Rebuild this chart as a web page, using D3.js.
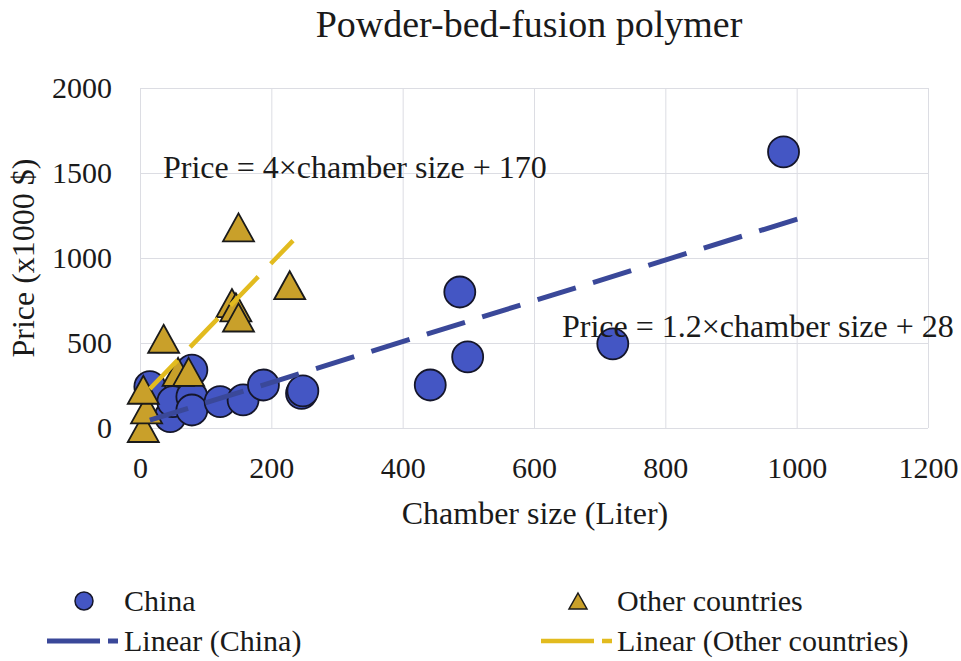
<!DOCTYPE html>
<html>
<head>
<meta charset="utf-8">
<script src="https://cdn.jsdelivr.net/npm/d3@7/dist/d3.min.js"></script>
<style>
  html, body { margin: 0; padding: 0; background: #fff; }
  svg { display: block; }
  text { font-family: "Liberation Serif", "Times New Roman", serif; fill: #1a1a1a; }
</style>
</head>
<body>
<svg id="chart" width="961" height="661"></svg>
<script>
// ---- data ----
const chartTitle = "Powder-bed-fusion polymer";
const xTicks = [0, 200, 400, 600, 800, 1000, 1200];
const yTicks = [0, 500, 1000, 1500, 2000];

const chinaSize  = [15, 46, 50, 79, 79, 79, 122, 157, 188, 246, 248, 442, 487, 499, 720, 980];
const chinaPrice = [243, 67, 155, 184, 106, 341, 155, 165, 253, 204, 218, 253, 800, 418, 495, 1624];

const otherSize  = [5, 10, 5, 36, 58, 74, 140, 146, 150, 150, 228];
const otherPrice = [0, 110, 225, 525, 330, 330, 735, 710, 650, 1180, 840];

// trendline equations (slope, intercept) and drawn x-range
const chinaTrend = [1.2, 28];
const chinaTrendRange = [15, 1020];
const otherTrend = [4, 170];
const otherTrendRange = [15, 233];

const chinaEq = "Price = 1.2×chamber size + 28";
const otherEq = "Price = 4×chamber size + 170";

// ---- styles ----
const blueFill = "#4456c4";
const blueLine = "#3a4899";
const goldFill = "#c9a02a";
const goldLine = "#e2bb1f";
const gridCol = "#dcdde3";

const svg = d3.select("#chart");
const x = d3.scaleLinear().domain([0, 1200]).range([140, 928]);
const y = d3.scaleLinear().domain([0, 2000]).range([428, 88]);

// grid
const gx = svg.append("g").attr("transform", `translate(0,${y(0)})`)
  .call(d3.axisBottom(x).tickValues(xTicks).tickSize(-(y(0) - y(2000))).tickFormat(""));
gx.select(".domain").remove();
gx.selectAll("line").attr("stroke", gridCol).attr("stroke-width", 1);

const gy = svg.append("g").attr("transform", `translate(${x(0)},0)`)
  .call(d3.axisLeft(y).tickValues(yTicks).tickSize(-(x(1200) - x(0))).tickFormat(""));
gy.select(".domain").remove();
gy.selectAll("line").attr("stroke", gridCol).attr("stroke-width", 1);

// tick labels
const ax = svg.append("g").attr("transform", `translate(0,${y(0)})`)
  .call(d3.axisBottom(x).tickValues(xTicks).tickSize(0).tickPadding(29).tickFormat(d3.format("d")));
ax.select(".domain").remove();
ax.selectAll("text").attr("font-size", 30).attr("font-family", "Liberation Serif").attr("fill", "#1a1a1a");

const ay = svg.append("g").attr("transform", `translate(112,0)`)
  .call(d3.axisLeft(y).tickValues(yTicks).tickSize(0).tickPadding(0).tickFormat(d3.format("d")));
ay.select(".domain").remove();
ay.selectAll("text").attr("font-size", 30).attr("font-family", "Liberation Serif").attr("fill", "#1a1a1a");

// title & axis titles
svg.append("text").attr("x", 529).attr("y", 37).attr("text-anchor", "middle")
  .attr("font-size", 38).text(chartTitle);
svg.append("text").attr("x", 535).attr("y", 524).attr("text-anchor", "middle")
  .attr("font-size", 32).text("Chamber size (Liter)");
svg.append("text").attr("transform", "translate(34,258) rotate(-90)").attr("text-anchor", "middle")
  .attr("font-size", 32).text("Price (x1000 $)");

// triangle path generator
function tri(w, h) {
  return `M0,${-h/2} L${w/2},${h/2} L${-w/2},${h/2} Z`;
}

// China points
const china = chinaSize.map((s, i) => ({ s, p: chinaPrice[i] }));
svg.append("g").selectAll("circle").data(china).join("circle")
  .attr("cx", d => x(d.s)).attr("cy", d => y(d.p)).attr("r", 15.5)
  .attr("fill", blueFill).attr("stroke", "#15162a").attr("stroke-width", 1.8);

// Other points
const others = otherSize.map((s, i) => ({ s, p: otherPrice[i] }));
svg.append("g").selectAll("path").data(others).join("path")
  .attr("transform", d => `translate(${x(d.s)},${y(d.p)})`)
  .attr("d", tri(31, 28))
  .attr("fill", goldFill).attr("stroke", "#1a1a1a").attr("stroke-width", 1.8).attr("stroke-linejoin", "miter");

// trendlines
function trendLine(eq, range, color, width) {
  const pts = range.map(v => [x(v), y(eq[0] * v + eq[1])]);
  svg.append("path").attr("d", d3.line()(pts))
    .attr("fill", "none").attr("stroke", color).attr("stroke-width", width)
    .attr("stroke-dasharray", "40,18");
}
trendLine(otherTrend, otherTrendRange, goldLine, 4.5);
trendLine(chinaTrend, chinaTrendRange, blueLine, 5);

// equations
svg.append("text").attr("x", 163).attr("y", 178).attr("font-size", 32).text(otherEq);
svg.append("text").attr("x", 562).attr("y", 337).attr("font-size", 32).text(chinaEq);

// legend
const lg = svg.append("g");
lg.append("circle").attr("cx", 84).attr("cy", 601).attr("r", 9)
  .attr("fill", blueFill).attr("stroke", "#15162a").attr("stroke-width", 1.5);
lg.append("text").attr("x", 124).attr("y", 611).attr("font-size", 30).text("China");
lg.append("path").attr("transform", "translate(578,601)").attr("d", tri(18, 16))
  .attr("fill", goldFill).attr("stroke", "#1a1a1a").attr("stroke-width", 1.5);
lg.append("text").attr("x", 617).attr("y", 611).attr("font-size", 30).text("Other countries");

lg.append("path").attr("d", d3.line()([[47, 641], [118, 641]]))
  .attr("stroke", blueLine).attr("stroke-width", 5).attr("stroke-dasharray", "53,8,10,100");
lg.append("text").attr("x", 124).attr("y", 651).attr("font-size", 30).text("Linear (China)");
lg.append("path").attr("d", d3.line()([[541, 641], [612, 641]]))
  .attr("stroke", goldLine).attr("stroke-width", 4.5).attr("stroke-dasharray", "53,8,10,100");
lg.append("text").attr("x", 617).attr("y", 651).attr("font-size", 30).text("Linear (Other countries)");
</script>
</body>
</html>
